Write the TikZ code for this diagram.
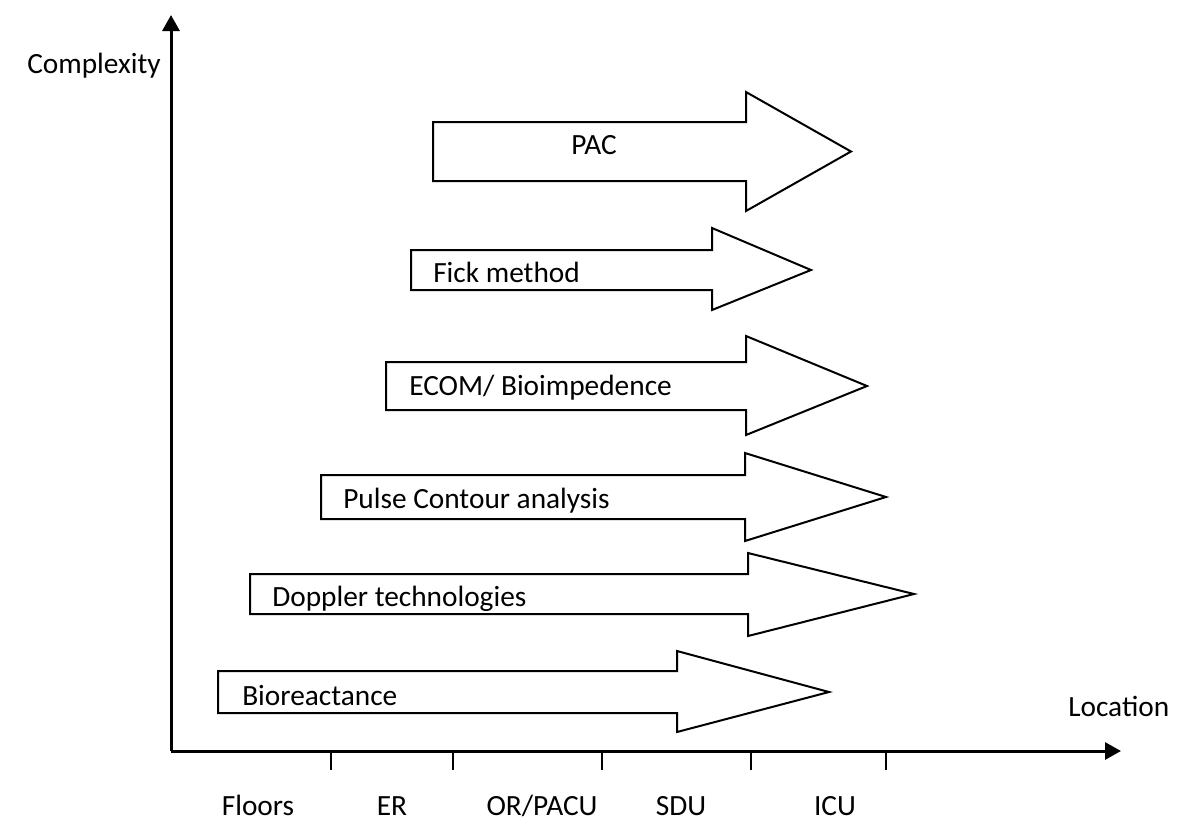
\documentclass[tikz,border=0pt]{standalone}
\usepackage{fontspec}
\setmainfont{Carlito}
\usetikzlibrary{arrows.meta}
\newcommand{\blockarr}[7]{%
  \draw[blockarrow] (#1,#2) -- (#4,#2) -- (#4,#5) -- (#7,{(#2+#3)/2}) -- (#4,#6) -- (#4,#3) -- (#1,#3) -- cycle;}
\begin{document}
\begin{tikzpicture}[x=0.75pt,y=-0.75pt,
  blockarrow/.style={draw=black, line width=1.5pt, fill=white, line join=miter},
  lbl/.style={font=\fontsize{22}{26}\selectfont, inner sep=0pt, anchor=base west},
  ctr/.style={font=\fontsize{22}{26}\selectfont, inner sep=0pt, anchor=base},
  axis/.style={line width=2.25pt, -{Triangle[width=12.75pt,length=12pt]}},
  tick/.style={line width=1.1pt}]
\useasboundingbox (0,0) rectangle (1200,833);
% block arrows: left, top, bottom, headx, headtop, headbottom, tipx
\blockarr{433}{122}{181}{746}{92}{211}{851}
\blockarr{411}{250}{290}{712}{228}{310}{811}
\blockarr{386}{362}{410}{746}{336}{435}{867}
\blockarr{321}{475}{519}{745}{453}{541}{886}
\blockarr{250}{574}{614}{748}{553}{636}{914}
\blockarr{218}{671}{713}{677}{651}{732}{829}
% arrow labels
\node[ctr] (pac) at (594,154) {PAC};
\node[lbl] (fick) at (433,282) {Fick method};
\node[lbl] (ecom) at (409,395) {ECOM/ Bioimpedence};
\node[lbl] (pulse) at (343,508) {Pulse Contour analysis};
\node[lbl] (doppler) at (272,606) {Doppler technologies};
\node[lbl] (bio) at (242,705) {Bioreactance};
% axes
\coordinate (O) at (171,751);
\coordinate (ytop) at (171,15);
\coordinate (xend) at (1121,751);
\draw[axis] (O) -- (ytop);
\draw[axis] (O) -- (xend);
\node[lbl] (cx) at (27,73) {Complexity};
\node[lbl] (loc) at (1068,716) {Location};
% ticks
\foreach \x/\n in {331/a,453/b,602/c,751/d,886/e}{
  \coordinate (t\n0) at (\x,751);
  \coordinate (t\n1) at (\x,770);
  \draw[tick] (t\n0) -- (t\n1);
}
% location labels
\node[ctr] (floors) at (258,815) {Floors};
\node[ctr] (er) at (392,815) {ER};
\node[ctr] (orpacu) at (542,815) {OR/PACU};
\node[ctr] (sdu) at (681,815) {SDU};
\node[ctr] (icu) at (835,815) {ICU};
\end{tikzpicture}
\end{document}
